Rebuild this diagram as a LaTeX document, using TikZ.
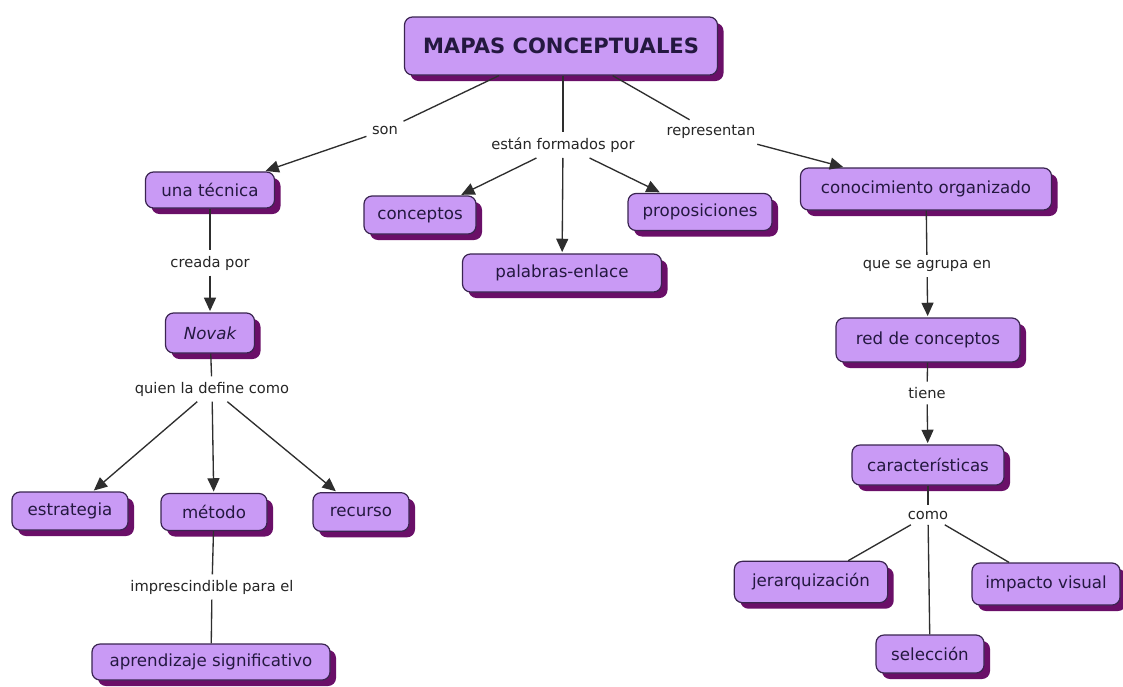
\documentclass[tikz,border=0pt]{standalone}
\usepackage{fontspec}
\setmainfont{DejaVu Sans}
\usetikzlibrary{arrows.meta,shadows}
\definecolor{cfill}{HTML}{C99AF5}
\definecolor{cborder}{HTML}{3A2450}
\definecolor{cshadow}{HTML}{6A0F68}
\definecolor{ctext}{HTML}{241840}
\definecolor{cline}{HTML}{2E2E2E}
\tikzset{
  concept/.style={draw=cborder, line width=0.9pt, fill=cfill, rounded corners=6pt,
    text=ctext, font=\fontsize{12.5}{15}\selectfont, inner sep=0pt,
    drop shadow={shadow xshift=4.5pt, shadow yshift=-4.5pt, fill=cshadow, opacity=1}},
  lnk/.style={font=\fontsize{11}{13}\selectfont, text=black!85, inner sep=4pt},
  conn/.style={draw=cline, line width=1pt},
  arr/.style={conn, -{Triangle[length=10pt,width=9pt]}, shorten >=1pt}
}
\begin{document}
\begin{tikzpicture}[x=0.75pt,y=-0.75pt]
\fill[white] (0,0) rectangle (1123,686);
\useasboundingbox (0,0) rectangle (1123,686);
% concepts
\node[concept, minimum width=234.75pt, minimum height=43.5pt, font=\fontsize{15.8}{18}\selectfont\bfseries] (mapas) at (561,46) {MAPAS CONCEPTUALES};
\node[concept, minimum width=96.75pt, minimum height=27pt] (tec) at (210,190) {una técnica};
\node[concept, minimum width=84pt, minimum height=28.5pt] (conc) at (420,215) {conceptos};
\node[concept, minimum width=108pt, minimum height=27.75pt] (prop) at (700,212) {proposiciones};
\node[concept, minimum width=149.25pt, minimum height=28.5pt] (pal) at (562,273) {palabras-enlace};
\node[concept, minimum width=188.25pt, minimum height=31.5pt] (con) at (926,189) {conocimiento organizado};
\node[concept, minimum width=66.75pt, minimum height=30pt] (novak) at (210,333) {\itshape Novak};
\node[concept, minimum width=138pt, minimum height=33pt] (red) at (928,340) {red de conceptos};
\node[concept, minimum width=114pt, minimum height=30pt] (car) at (928,465) {características};
\node[concept, minimum width=87pt, minimum height=28.5pt] (estr) at (70,511) {estrategia};
\node[concept, minimum width=79.5pt, minimum height=27.75pt] (met) at (214,512) {método};
\node[concept, minimum width=72pt, minimum height=29pt] (rec) at (361,512) {recurso};
\node[concept, minimum width=178.5pt, minimum height=27pt] (apr) at (211,662) {aprendizaje significativo};
\node[concept, minimum width=115pt, minimum height=31pt] (jer) at (811,582) {jerarquización};
\node[concept, minimum width=111pt, minimum height=31.5pt] (imp) at (1046,584) {impacto visual};
\node[concept, minimum width=81pt, minimum height=28.5pt] (sel) at (930,654) {selección};
% link labels
\node[lnk] (son) at (385,130) {son};
\node[lnk] (efp) at (563,145) {están formados por};
\node[lnk] (rep) at (711,132) {representan};
\node[lnk] (cre) at (210,263) {creada por};
\node[lnk] (qui) at (212,389) {quien la define como};
\node[lnk] (imx) at (212,587) {imprescindible para el};
\node[lnk] (que) at (927,266) {que se agrupa en};
\node[lnk] (tie) at (927,393) {tiene};
\node[lnk] (como) at (928,515) {como};
% connectors
\draw[conn] (mapas) -- (son);
\draw[arr] (son) -- (tec);
\draw[conn] (mapas.south -| efp) -- (efp);
\draw[arr] (efp) -- (conc);
\draw[arr] (efp) -- (pal);
\draw[arr] (efp) -- (prop);
\draw[conn] (mapas) -- (rep);
\draw[arr] (rep) -- (con);
\draw[conn] (tec) -- (cre);
\draw[arr] (cre) -- (novak);
\draw[conn] (novak) -- (qui);
\draw[arr] (qui) -- (estr);
\draw[arr] (qui) -- (met);
\draw[arr] (qui) -- (rec);
\draw[conn] (met) -- (imx);
\draw[conn] (imx) -- (apr);
\draw[conn] (con) -- (que);
\draw[arr] (que) -- (red);
\draw[conn] (red) -- (tie);
\draw[arr] (tie) -- (car);
\draw[conn] (car) -- (como);
\draw[conn] (como) -- (jer);
\draw[conn] (como) -- (sel);
\draw[conn] (como) -- (imp);
\end{tikzpicture}
\end{document}
